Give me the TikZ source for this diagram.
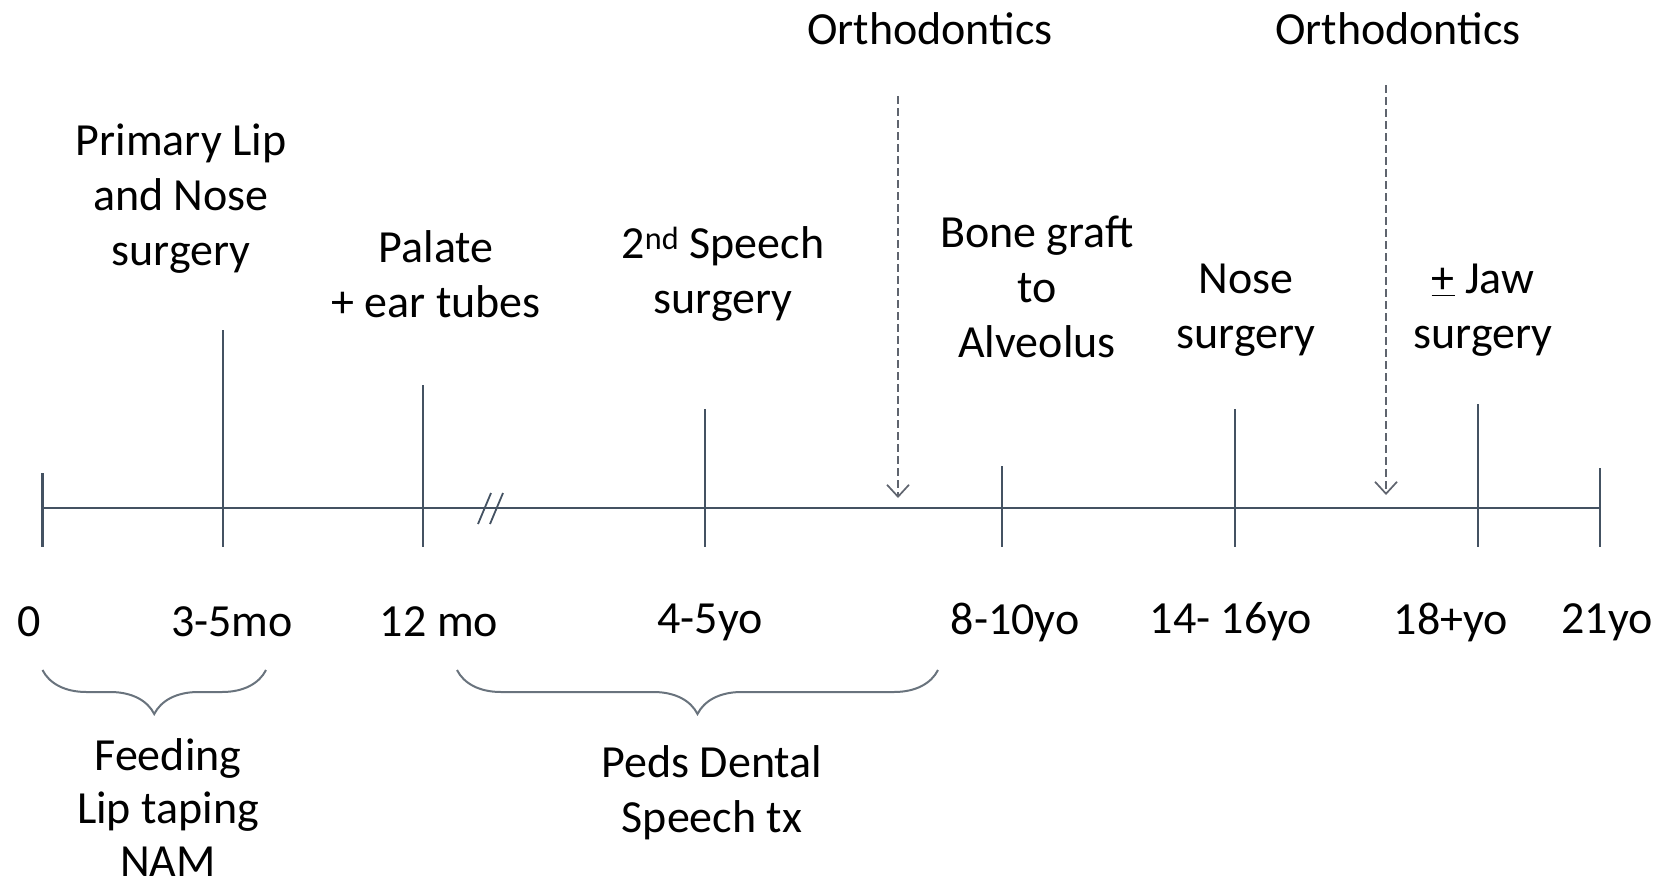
\documentclass[tikz,border=0pt]{standalone}
\usepackage{fontspec}
\setmainfont{Carlito}
\usetikzlibrary{arrows.meta,decorations.pathreplacing}
\definecolor{axiscol}{RGB}{68,82,98}
\definecolor{bracecol}{RGB}{105,115,125}
\definecolor{dashcol}{RGB}{95,100,110}
\tikzset{
  lbl/.style={align=center, inner sep=0pt, font=\fontsize{46}{55}\selectfont, text=black},
  axisline/.style={draw=axiscol, line width=2.4pt},
  tickline/.style={draw=axiscol, line width=2.2pt},
  ortharrow/.style={draw=dashcol, line width=1.7pt, dash pattern=on 8pt off 4pt, -{Straight Barb[length=12pt,width=22pt,line width=1.7pt]}},
  bracestyle/.style={draw=bracecol, line width=2pt, decorate, decoration={brace, amplitude=44pt}},
}
\begin{document}
\begin{tikzpicture}[x=1pt,y=-1pt]
\useasboundingbox (0,0) rectangle (1667,891);
% axis
\coordinate (a0) at (42.5,508);
\coordinate (a1) at (1600,508);
\draw[axisline] (a0) -- (a1);
% ticks
\coordinate (t0a) at (42.5,473);  \coordinate (t0b) at (42.5,547);
\coordinate (t1a) at (223,330);   \coordinate (t1b) at (223,547);
\coordinate (t2a) at (423,385);   \coordinate (t2b) at (423,547);
\coordinate (t3a) at (705,409);   \coordinate (t3b) at (705,547);
\coordinate (t4a) at (1002,466);  \coordinate (t4b) at (1002,547);
\coordinate (t5a) at (1235,409);  \coordinate (t5b) at (1235,547);
\coordinate (t6a) at (1478,404);  \coordinate (t6b) at (1478,547);
\coordinate (t7a) at (1600,468);  \coordinate (t7b) at (1600,547);
\foreach \i in {0,...,7}{\draw[tickline] (t\i a) -- (t\i b);}
% break marks
\coordinate (b1a) at (478,524); \coordinate (b1b) at (491,493);
\coordinate (b2a) at (490,524); \coordinate (b2b) at (503,493);
\draw[tickline, line width=1.8pt] (b1a) -- (b1b);
\draw[tickline, line width=1.8pt] (b2a) -- (b2b);
% orthodontics
\node[lbl] (orth1) at (930,29) {Orthodontics};
\node[lbl] (orth2) at (1398,29) {Orthodontics};
\coordinate (o1a) at (898,96);   \coordinate (o1b) at (898,498);
\coordinate (o2a) at (1386,85);  \coordinate (o2b) at (1386,495);
\draw[ortharrow] (o1a) -- (o1b);
\draw[ortharrow] (o2a) -- (o2b);
% upper labels
\node[lbl] (lip) at (181,199) {Primary Lip\\and Nose\\surgery};
\node[lbl] (palate) at (436,274) {Palate\\+ ear tubes};
\node[lbl] (speech) at (723,274) {2\textsuperscript{nd} Speech\\surgery};
\node[lbl] (bone) at (1037,287) {Bone graft\\to\\Alveolus};
\node[lbl] (nose) at (1246,310) {Nose\\surgery};
\node[lbl] (jaw) at (1483,310) {\underline{+} Jaw\\surgery};
% bottom labels
\node[lbl] (l0) at (29,622) {0};
\node[lbl] (l1) at (232,622) {3-5mo};
\node[lbl] (l2) at (439,622) {12 mo};
\node[lbl] (l3) at (710,622) {4-5yo};
\node[lbl] (l4) at (1015,622) {8-10yo};
\node[lbl] (l5) at (1231,622) {14- 16yo};
\node[lbl] (l6) at (1451,622) {18+yo};
\node[lbl] (l7) at (1607,622) {21yo};
% braces
\coordinate (br1a) at (266,670); \coordinate (br1b) at (42.5,670);
\coordinate (br2a) at (938,670); \coordinate (br2b) at (457,670);
\draw[bracestyle] (br1a) -- (br1b);
\draw[bracestyle] (br2a) -- (br2b);
\node[lbl, font=\fontsize{46}{53}\selectfont] (feed) at (168,808) {Feeding\\Lip taping\\NAM};
\node[lbl] (peds) at (712,793) {Peds Dental\\Speech tx};
\end{tikzpicture}
\end{document}
